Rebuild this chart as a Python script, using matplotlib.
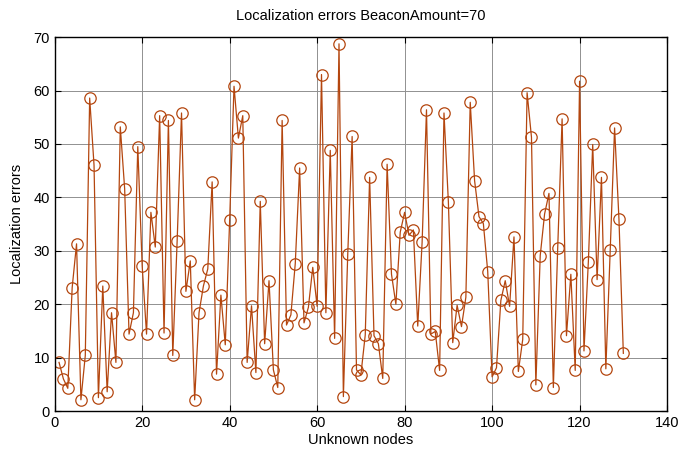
import matplotlib
matplotlib.use("Agg")
import matplotlib.pyplot as plt

plt.rcParams['font.family'] = ['Liberation Sans', 'DejaVu Sans']

nodes = list(range(1, 131))
errors = [
    9.1, 6.0, 4.25, 23.1, 31.3, 2.1, 10.4, 58.6, 46.0, 2.5,
    23.4, 3.6, 18.4, 9.1, 53.2, 41.6, 14.4, 18.4, 49.5, 27.2,
    14.4, 37.2, 30.7, 55.3, 14.6, 54.4, 10.4, 31.9, 55.8, 22.4,
    28.1, 2.1, 18.4, 23.4, 26.6, 42.9, 6.9, 21.7, 12.4, 35.7,
    60.8, 51.1, 55.3, 9.1, 19.7, 7.2, 39.25, 12.6, 24.4, 7.7,
    4.4, 54.4, 16.1, 18.0, 27.6, 45.5, 16.5, 19.4, 26.9, 19.6,
    63.0, 18.4, 48.8, 13.6, 68.75, 2.7, 29.4, 51.4, 7.7, 6.75,
    14.25, 43.75, 14.1, 12.6, 6.1, 46.2, 25.6, 20.0, 33.5, 37.2,
    32.9, 33.9, 15.9, 31.6, 56.4, 14.4, 14.9, 7.6, 55.8, 39.2,
    12.8, 19.8, 15.8, 21.3, 57.8, 43.1, 36.4, 35.1, 26.1, 6.4,
    8.1, 20.7, 24.4, 19.6, 32.6, 7.4, 13.4, 59.6, 51.25, 4.9,
    29.1, 36.9, 40.75, 4.4, 30.6, 54.7, 14.1, 25.6, 7.6, 61.75,
    11.25, 27.9, 49.9, 24.6, 43.75, 7.9, 30.1, 53.0, 35.9, 10.8,
]
xticks = [0, 20, 40, 60, 80, 100, 120, 140]
yticks = [0, 10, 20, 30, 40, 50, 60, 70]

color = '#B4460F'

fig = plt.figure(figsize=(6.8, 4.53), dpi=100)
ax = fig.add_axes([0.0804, 0.0927, 0.9006, 0.8253])
ax.plot(nodes, errors, '-o', color=color, linewidth=0.9,
        markersize=8.2, markerfacecolor='none', markeredgecolor=color,
        markeredgewidth=0.9)
ax.set_xlim(0, 140)
ax.set_ylim(0, 70)
ax.set_xticks(xticks)
ax.set_yticks(yticks)
ax.grid(True, color='#909090', linewidth=0.7, linestyle='-')
ax.set_axisbelow(True)
ax.tick_params(direction='in', top=True, right=True, labelsize=10.5, length=4)
for s in ax.spines.values():
    s.set_linewidth(1.0)
ax.set_title('Localization errors BeaconAmount=70', fontsize=10.5, pad=12)
ax.set_xlabel('Unknown nodes', fontsize=10.5, labelpad=2)
ax.set_ylabel('Localization errors', fontsize=10.5, labelpad=7)

fig.savefig('out.png', dpi=100)
